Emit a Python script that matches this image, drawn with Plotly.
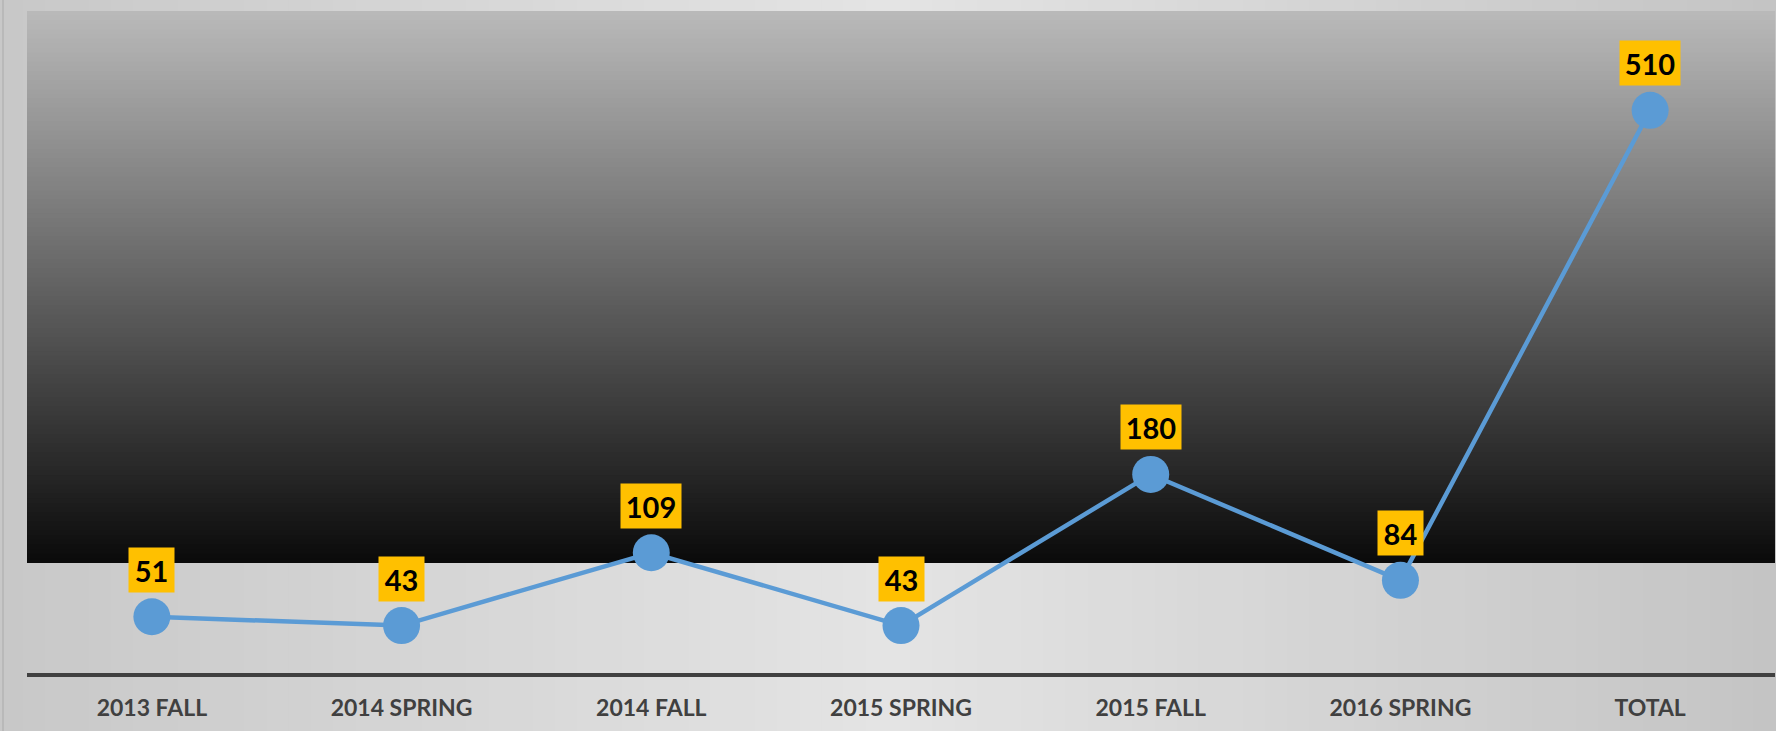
import plotly.graph_objects as go

categories = ["2013 FALL", "2014 SPRING", "2014 FALL", "2015 SPRING", "2015 FALL", "2016 SPRING", "TOTAL"]
values = [51, 43, 109, 43, 180, 84, 510]

W, H = 1776, 731
ML, MR, MT, MB = 27, 1, 11, 58
PW, PH = W - ML - MR, H - MT - MB


def lerp(c1, c2, t):
    return "rgb(%d,%d,%d)" % tuple(round(a + (b - a) * t) for a, b in zip(c1, c2))


shapes = []
# page background: horizontal gradient (light centre, darker edges)
NB = 80
x0p, x1p = -ML / PW, 1 + MR / PW
y0p, y1p = -MB / PH, 1 + MT / PH
edgeL, centre, edgeR = (200, 200, 200), (228, 228, 228), (196, 196, 196)
for i in range(NB):
    t = (i + 0.5) / NB
    c = lerp(edgeL, centre, t * 2) if t < 0.5 else lerp(centre, edgeR, (t - 0.5) * 2)
    xa = x0p + (x1p - x0p) * i / NB
    shapes.append(dict(type="rect", xref="paper", yref="paper", x0=xa, x1=x1p, y0=y0p, y1=y1p,
                       fillcolor=c, line=dict(width=0), layer="below"))
# left frame line
shapes.append(dict(type="line", xref="paper", yref="paper", x0=(3 - ML) / PW, x1=(3 - ML) / PW,
                   y0=y0p, y1=y1p, line=dict(color="#b4b4b4", width=1.5), layer="below"))

# dark vertical gradient band in plot area
ND = 120
top_c, bot_c = (186, 186, 186), (10, 10, 10)
ylo, yhi = 100, 600
for i in range(ND):
    t = (i + 0.5) / ND
    yb = yhi - (yhi - ylo) * i / ND
    shapes.append(dict(type="rect", xref="paper", yref="y", x0=0, x1=1, y0=ylo, y1=yb,
                       fillcolor=lerp(top_c, bot_c, t), line=dict(width=0), layer="below"))

fig = go.Figure()
fig.add_trace(go.Scatter(
    x=categories, y=values, mode="lines+markers",
    line=dict(color="#5B9BD5", width=4.5),
    marker=dict(color="#5B9BD5", size=37),
    hoverinfo="skip", showlegend=False,
))

annotations = []
for c, v in zip(categories, values):
    s = str(v)
    annotations.append(dict(
        x=c, y=v, xref="x", yref="y", text=s, showarrow=False, yshift=47,
        font=dict(family="Lato", size=29, color="black", weight="bold"),
        bgcolor="#FFC000", borderpad=0, width=15 * len(s) + 15, height=44,
        xanchor="center", yanchor="middle",
    ))

fig.update_layout(
    width=W, height=H,
    margin=dict(l=ML, r=MR, t=MT, b=MB, pad=0),
    paper_bgcolor="#d8d8d8", plot_bgcolor="rgba(0,0,0,0)",
    shapes=shapes, annotations=annotations,
    xaxis=dict(type="category", range=[-0.5, 6.5], showgrid=False, zeroline=False,
               showline=True, linecolor="#404040", linewidth=4,
               ticks="outside", ticklen=11, tickcolor="rgba(0,0,0,0)",
               tickfont=dict(family="Lato", size=23, color="#404040", weight="bold")),
    yaxis=dict(range=[0, 600], showgrid=False, zeroline=False, showticklabels=False,
               showline=False, fixedrange=True),
)

fig.write_html("out.html")
